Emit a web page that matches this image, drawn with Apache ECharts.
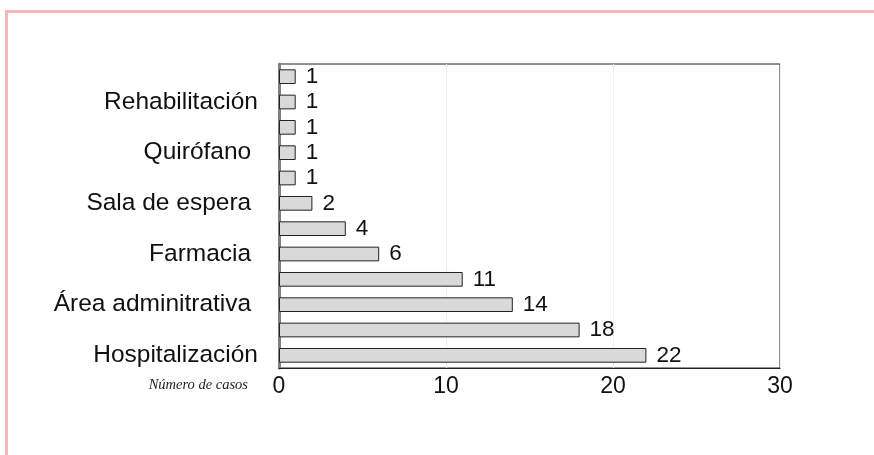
<!DOCTYPE html>
<html>
<head>
<meta charset="utf-8">
<script src="https://cdn.jsdelivr.net/npm/echarts@6/dist/echarts.min.js"></script>
<style>
  html, body { margin: 0; padding: 0; overflow: hidden; background: #fff; }
  #frame { position: absolute; left: 5px; top: 10px; width: 900px; height: 500px; border-left: 3px solid #f7b6b8; border-top: 3px solid #f7b6b8; }
  #chart { position: absolute; left: 0; top: 0; width: 874px; height: 455px; }
</style>
</head>
<body>
<div id="frame"></div>
<div id="chart"></div>
<script>
// categories from bottom to top (blank = unlabeled rows)
const categories = ['Hospitalización', '', 'Área adminitrativa ', '', 'Farmacia ', '', 'Sala de espera ', '', 'Quirófano ', '', 'Rehabilitación', ''];
const casos = [22, 18, 14, 11, 6, 4, 2, 1, 1, 1, 1, 1];
const xTicks = [0, 10, 20, 30];

const chart = echarts.init(document.getElementById('chart'));
const font = 'Arial, "Liberation Sans", sans-serif';

chart.setOption({
  animation: false,
  grid: { left: 279, right: 94, top: 64, bottom: 87, show: true, borderColor: '#222', borderWidth: 1 },
  xAxis: {
    type: 'value',
    min: xTicks[0], max: xTicks[xTicks.length - 1], interval: 10,
    name: 'Número de casos',
    nameLocation: 'start',
    nameGap: 31,
    nameTextStyle: { fontFamily: '"Liberation Serif", "Times New Roman", serif', fontStyle: 'italic', fontSize: 14.5, color: '#222', verticalAlign: 'top', padding: [10, 0, 0, 0] },
    axisLine: { show: true, lineStyle: { color: '#222', width: 1 } },
    axisTick: { show: false },
    axisLabel: { fontFamily: font, fontSize: 23, color: '#111', margin: 7 },
    splitLine: { show: true, lineStyle: { color: '#eeeeee', width: 1 } }
  },
  yAxis: {
    type: 'category',
    data: categories,
    axisLine: { show: true, lineStyle: { color: '#808080', width: 3 } },
    axisTick: { show: false },
    axisLabel: { interval: 0, fontFamily: font, fontSize: 24.5, color: '#111', margin: 21 }
  },
  series: [{
    type: 'bar',
    data: casos,
    barWidth: '58%',
    itemStyle: { color: '#d9d9d9', borderColor: '#222', borderWidth: 1 },
    label: { show: true, position: 'right', distance: 10, fontFamily: font, fontSize: 22.5, color: '#111' }
  }]
});
</script>
</body>
</html>
